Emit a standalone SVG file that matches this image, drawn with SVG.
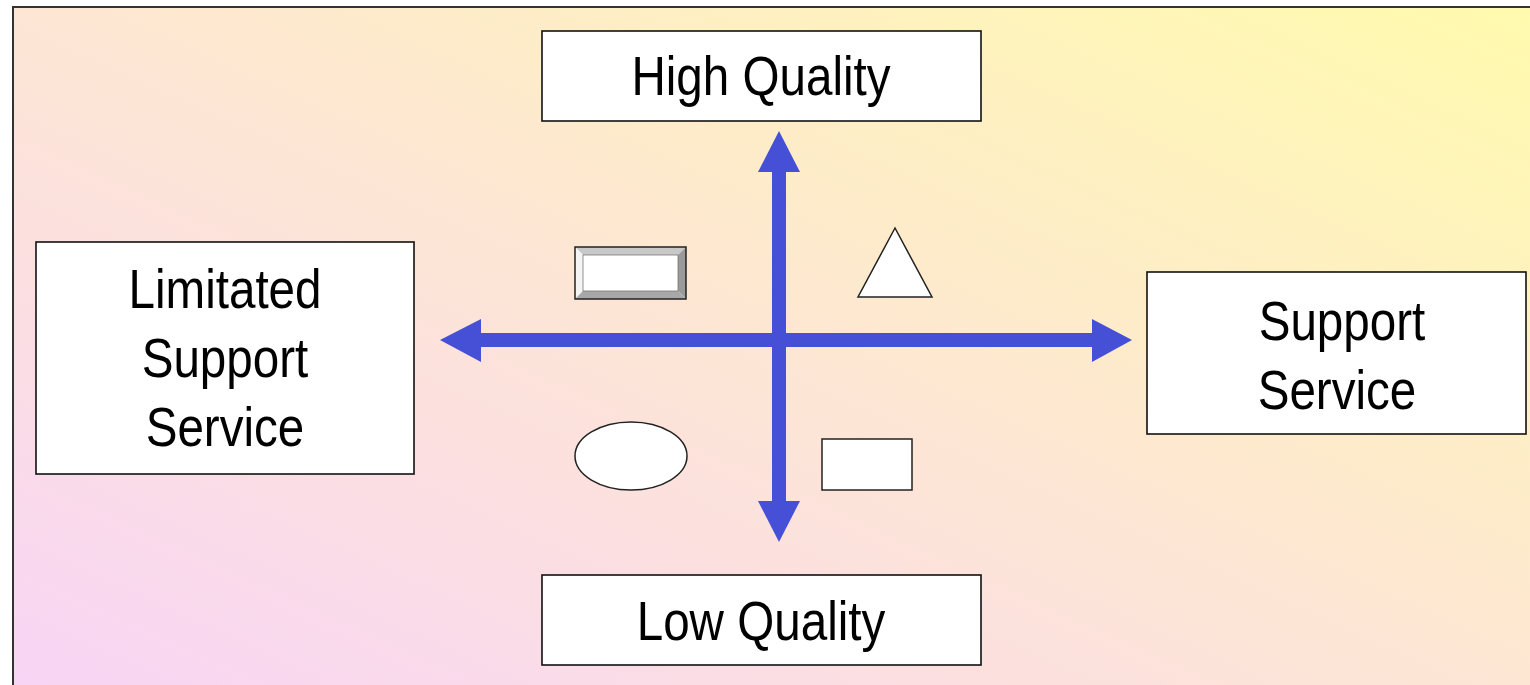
<svg xmlns="http://www.w3.org/2000/svg" width="1530" height="685" viewBox="0 0 1530 685">
<defs>
<linearGradient id="bg" x1="0" y1="1" x2="1" y2="0">
<stop offset="0" stop-color="#f8d4f6"/>
<stop offset="0.5" stop-color="#fde6d4"/>
<stop offset="1" stop-color="#fffbad"/>
</linearGradient>
<style>
.box{fill:#fff;stroke:#111;stroke-width:1.6}
.lbl{font-family:"Liberation Sans",Arial,sans-serif;font-size:56px;fill:#000;text-anchor:middle}
.ax{stroke:#4650d6;stroke-width:14;fill:none}
.hd{fill:#4650d6}
.shp{fill:#fff;stroke:#222;stroke-width:1.5}
</style>
</defs>
<rect x="13" y="7" width="1540" height="700" fill="url(#bg)" stroke="#333" stroke-width="2"/>
<g id="connectors">
<line class="ax" x1="478" y1="340" x2="1096" y2="340"/>
<line class="ax" x1="779" y1="170" x2="779" y2="504"/>
<polygon class="hd" points="440,340 481,319 481,362"/>
<polygon class="hd" points="1132,340 1092,319 1092,362"/>
<polygon class="hd" points="779,131 758,172 800,172"/>
<polygon class="hd" points="779,542 758,501 800,501"/>
</g>
<g id="high-quality">
<rect class="box" x="542" y="31" width="439" height="90"/>
<text class="lbl" transform="translate(761 95) scale(0.85 1)">High Quality</text>
</g>
<g id="low-quality">
<rect class="box" x="542" y="575" width="439" height="90"/>
<text class="lbl" transform="translate(761 640) scale(0.85 1)">Low Quality</text>
</g>
<g id="limitated-support-service">
<rect class="box" x="36" y="242" width="378" height="232"/>
<text class="lbl" transform="translate(225 308) scale(0.85 1)">Limitated</text>
<text class="lbl" transform="translate(225 377) scale(0.85 1)">Support</text>
<text class="lbl" transform="translate(225 446) scale(0.85 1)">Service</text>
</g>
<g id="support-service">
<rect class="box" x="1147" y="272" width="379" height="162"/>
<text class="lbl" transform="translate(1342 340) scale(0.85 1)">Support</text>
<text class="lbl" transform="translate(1337 409) scale(0.85 1)">Service</text>
</g>
<g id="bevel-rect">
<rect x="575" y="247" width="111" height="52" fill="#fff"/>
<polygon points="575,247 686,247 678,255 583,255" fill="#c8c8c8"/>
<polygon points="575,247 583,255 583,291 575,299" fill="#f4f4f4"/>
<polygon points="686,247 686,299 678,291 678,255" fill="#9a9a9a"/>
<polygon points="575,299 686,299 678,291 583,291" fill="#a8a8a8"/>
<rect x="583" y="255" width="95" height="36" fill="#fff" stroke="#777" stroke-width="0.8"/>
<rect x="575" y="247" width="111" height="52" fill="none" stroke="#222" stroke-width="1.5"/>
</g>
<g id="triangle">
<polygon class="shp" points="895,228 858,297 932,297"/>
</g>
<g id="ellipse">
<ellipse class="shp" cx="631" cy="456" rx="56" ry="34"/>
</g>
<g id="rect">
<rect class="shp" x="822" y="439" width="90" height="51"/>
</g>
</svg>
